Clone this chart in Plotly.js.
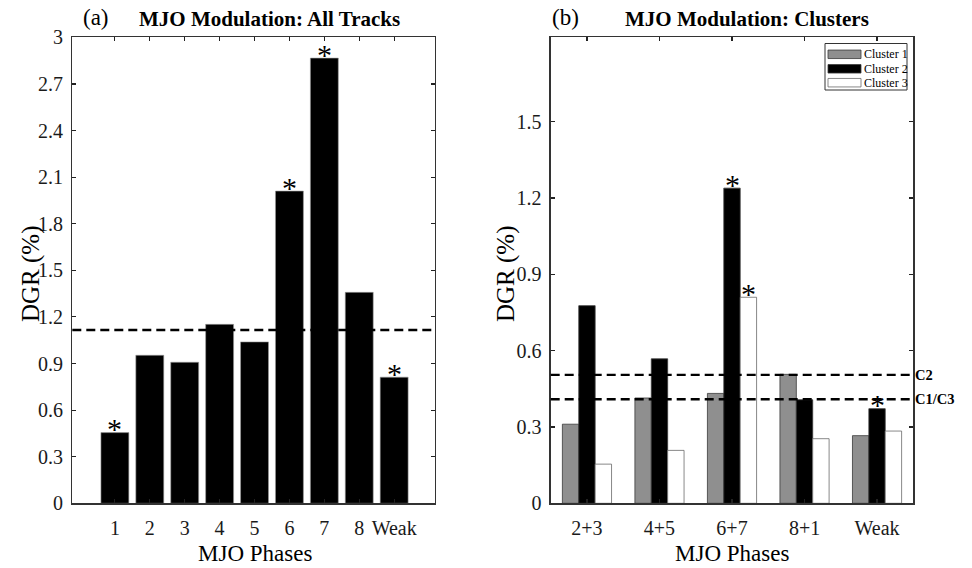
<!DOCTYPE html>
<html>
<head>
<meta charset="utf-8">
<script src="https://cdn.plot.ly/plotly-3.0.1.min.js"></script>
<style>html,body{margin:0;padding:0;background:#fff;}#chart{width:972px;height:568px;}</style>
</head>
<body>
<div id="chart"></div>
<script>
// ---- data ----
const phases = ['1', '2', '3', '4', '5', '6', '7', '8', 'Weak'];
const dgrAll = [0.455, 0.953, 0.908, 1.152, 1.039, 2.01, 2.866, 1.358, 0.812];
const sigAll = [true, false, false, false, false, true, true, false, true];
const thresholdAll = 1.116;

const groups = ['2+3', '4+5', '6+7', '8+1', 'Weak'];
const clusterNames = ['Cluster 1', 'Cluster 2', 'Cluster 3'];
const cluster1 = [0.311, 0.414, 0.432, 0.507, 0.266];
const cluster2 = [0.777, 0.568, 1.239, 0.407, 0.372];
const cluster3 = [0.154, 0.208, 0.810, 0.254, 0.284];
const sig1 = [false, false, false, false, false];
const sig2 = [false, false, true, false, true];
const sig3 = [false, false, true, false, false];
const thresholdC2 = 0.505;
const thresholdC13 = 0.409;
const thresholdLabels = ['C2', 'C1/C3'];

const leftTicks = [0, 0.3, 0.6, 0.9, 1.2, 1.5, 1.8, 2.1, 2.4, 2.7, 3];
const rightTicks = [0, 0.3, 0.6, 0.9, 1.2, 1.5];

// ---- style ----
const FONT = 'Liberation Serif, Times New Roman, serif';
const W = 972, H = 568;
const dom1 = [72.3 / W, 435 / W];
const dom2 = [550.7 / W, 913.3 / W];
const ydom = [(H - 503.3) / H, (H - 37.3) / H];
const barW2 = 0.226;
const barPx2 = 16.4;
const fills = ['#8f8f8f', '#000000', '#ffffff'];
const edges = ['#3a3a3a', '#3a3a3a', '#6a6a6a'];
const starFont = {family: FONT, size: 30, color: '#000'};
const starShift = 4;

const traces = [];
traces.push({
  type: 'bar', x: phases, y: dgrAll, xaxis: 'x', yaxis: 'y',
  width: 0.8, showlegend: false, hoverinfo: 'skip',
  marker: {color: '#000', line: {color: '#9a9a9a', width: 0.6}}
});
const clusters = [cluster1, cluster2, cluster3];
const sigs = [sig1, sig2, sig3];
clusters.forEach((vals, k) => {
  traces.push({
    type: 'bar', x: groups, y: vals, xaxis: 'x2', yaxis: 'y2',
    name: clusterNames[k], width: barW2, offset: (k - 1.5) * barW2, showlegend: false,
    marker: {color: fills[k], line: {color: edges[k], width: 0.8}},
    hoverinfo: 'skip'
  });
});

const annotations = [];
const shapes = [];
// stars (x given as category index)
phases.forEach((p, i) => {
  if (sigAll[i]) annotations.push({xref: 'x', yref: 'y', x: i, y: dgrAll[i], text: '*',
    showarrow: false, yanchor: 'middle', yshift: starShift, font: starFont});
});
clusters.forEach((vals, k) => {
  groups.forEach((g, i) => {
    if (sigs[k][i]) annotations.push({xref: 'x2', yref: 'y2', x: i, y: vals[i], text: '*',
      showarrow: false, yanchor: 'middle', yshift: starShift, xshift: (k - 1) * barPx2, font: starFont});
  });
});
// threshold labels
[thresholdC2, thresholdC13].forEach((v, i) => {
  annotations.push({xref: 'paper', yref: 'y2', x: dom2[1], y: v, text: '<b>' + thresholdLabels[i] + '</b>',
    showarrow: false, xanchor: 'left', xshift: 0, font: {family: FONT, size: 14.5, color: '#000'}});
});
// titles
const titles = [
  {x: 96, y: 18, text: '(a)', size: 23, bold: false},
  {x: 269, y: 19, text: 'MJO Modulation: All Tracks', size: 21, bold: true},
  {x: 565, y: 18, text: '(b)', size: 23, bold: false},
  {x: 747, y: 19, text: 'MJO Modulation: Clusters', size: 21, bold: true},
  {x: 255, y: 553, text: 'MJO Phases', size: 23, bold: false},
  {x: 732, y: 553, text: 'MJO Phases', size: 23, bold: false}
];
titles.forEach(t => annotations.push({xref: 'paper', yref: 'paper', x: t.x / W, y: 1 - t.y / H,
  text: t.bold ? '<b>' + t.text + '</b>' : t.text, showarrow: false, xanchor: 'center', yanchor: 'middle',
  font: {family: FONT, size: t.size, color: '#000'}}));
[[31, 274], [506, 274]].forEach(p => annotations.push({xref: 'paper', yref: 'paper', x: p[0] / W, y: 1 - p[1] / H,
  text: 'DGR (%)', textangle: -90, showarrow: false, xanchor: 'center', yanchor: 'middle',
  font: {family: FONT, size: 25, color: '#000'}}));

// custom legend (box + wide swatches)
const leg = {x0: 825, x1: 907, y0: 43.5, y1: 90, sw0: 828, sw1: 861, rowY: [54.3, 68.8, 82.7], sh: 8.5};
shapes.push({type: 'rect', xref: 'paper', yref: 'paper', x0: leg.x0 / W, x1: leg.x1 / W,
  y0: 1 - leg.y1 / H, y1: 1 - leg.y0 / H, line: {color: '#333', width: 1}, fillcolor: '#fff', layer: 'above'});
clusterNames.forEach((n, k) => {
  const cy = leg.rowY[k];
  shapes.push({type: 'rect', xref: 'paper', yref: 'paper', x0: leg.sw0 / W, x1: leg.sw1 / W,
    y0: 1 - (cy + leg.sh / 2) / H, y1: 1 - (cy - leg.sh / 2) / H,
    line: {color: edges[k], width: 0.8}, fillcolor: fills[k], layer: 'above'});
  annotations.push({xref: 'paper', yref: 'paper', x: (leg.sw1 + 0.5) / W, y: 1 - cy / H, text: n,
    showarrow: false, xanchor: 'left', yanchor: 'middle', font: {family: FONT, size: 12, color: '#000'}});
});

const dashLine = {color: '#000', width: 2.4, dash: '9px,5px'};
shapes.push(
  {type: 'line', xref: 'x domain', yref: 'y', x0: 0, x1: 1, y0: thresholdAll, y1: thresholdAll, line: dashLine, layer: 'above'},
  {type: 'line', xref: 'x2 domain', yref: 'y2', x0: 0, x1: 1, y0: thresholdC2, y1: thresholdC2, line: dashLine, layer: 'above'},
  {type: 'line', xref: 'x2 domain', yref: 'y2', x0: 0, x1: 1, y0: thresholdC13, y1: thresholdC13, line: dashLine, layer: 'above'}
);

const axisCommon = {
  showline: true, mirror: 'ticks', linecolor: '#333', linewidth: 1.3,
  ticks: 'inside', ticklen: 4, tickwidth: 1.2, tickcolor: '#222',
  showgrid: false, zeroline: false, fixedrange: true,
  tickfont: {family: FONT, size: 20, color: '#1a1a1a'}
};

const layout = {
  width: W, height: H,
  margin: {l: 0, r: 0, t: 0, b: 0},
  paper_bgcolor: '#fff', plot_bgcolor: '#fff',
  barmode: 'overlay',
  showlegend: false,
  xaxis: Object.assign({}, axisCommon, {domain: dom1, anchor: 'y', type: 'category',
    range: [-1.22, 9.17], ticklabelstandoff: 6}),
  yaxis: Object.assign({}, axisCommon, {domain: ydom, anchor: 'x', range: [0, 3],
    tickvals: leftTicks, ticktext: leftTicks.map(String), ticklabelstandoff: 4}),
  xaxis2: Object.assign({}, axisCommon, {domain: dom2, anchor: 'y2', type: 'category',
    range: [-0.5, 4.5], ticklabelstandoff: 6}),
  yaxis2: Object.assign({}, axisCommon, {domain: ydom, anchor: 'x2', range: [0, 1.832],
    tickvals: rightTicks, ticktext: rightTicks.map(String), ticklabelstandoff: 4}),
  annotations: annotations,
  shapes: shapes
};

Plotly.newPlot('chart', traces, layout, {displayModeBar: false, staticPlot: true});
</script>
</body>
</html>
